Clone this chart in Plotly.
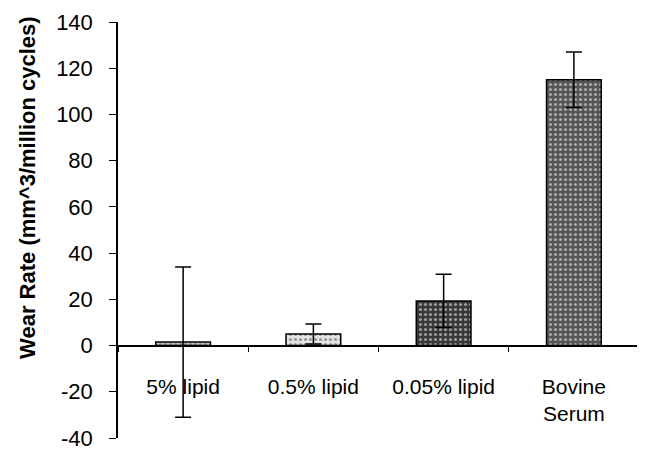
import plotly.graph_objects as go

categories = ["5% lipid", "0.5% lipid", "0.05% lipid", "Bovine<br>Serum"]
wear_rate = [1.5, 5.0, 19.3, 115.0]
error = [32.5, 4.3, 11.5, 12.0]
y_ticks = [-40, -20, 0, 20, 40, 60, 80, 100, 120, 140]
y_tick_labels = ["-40", "-20", "0", "20", "40", "60", "80", "100", "120", "140"]

bar_colors = ["#c8c8c8", "#e4e4e4", "#383838", "#555555"]

fig = go.Figure()
fig.add_trace(go.Bar(
    x=categories, y=wear_rate,
    width=0.42,
    marker=dict(color=bar_colors, line=dict(color="black", width=1.5),
                pattern=dict(shape=".", fgcolor="#9a9a9a", size=5, solidity=0.3)),
    error_y=dict(type="data", array=error, visible=True, color="black", thickness=1.5, width=8),
    showlegend=False,
))

font_family = "Arial, Liberation Sans, sans-serif"
fig.update_layout(
    width=637, height=445,
    margin=dict(l=110, r=6, t=14, b=15, autoexpand=False),
    paper_bgcolor="white", plot_bgcolor="white",
    font=dict(family=font_family, color="black", size=21),
    bargap=0.58,
    xaxis=dict(
        type="category", automargin=False,
        anchor="free", position=40/180,
        showline=True, linecolor="black", linewidth=1.5,
        ticks="outside", ticklen=6, tickcolor="black", tickwidth=1,
        tickson="boundaries",
        showgrid=False, zeroline=False,
        tickfont=dict(size=21, family=font_family),
        ticklabelstandoff=22,
    ),
    yaxis=dict(
        range=[-40, 140], tickvals=y_ticks, ticktext=y_tick_labels,
        automargin=False, ticklabeloverflow="allow",
        showline=True, linecolor="black", linewidth=1.5,
        ticks="outside", ticklen=7, tickcolor="black",
        showgrid=False, zeroline=False,
        tickfont=dict(size=22, family=font_family),
        ticklabelstandoff=12,
    ),
    annotations=[dict(
        text="<b>Wear Rate (mm^3/million cycles)</b>",
        xref="paper", yref="paper", x=-0.174, y=0.602,
        xanchor="center", yanchor="middle", textangle=-90,
        showarrow=False, font=dict(size=22, family=font_family),
    )],
)

fig.write_html("out.html")
